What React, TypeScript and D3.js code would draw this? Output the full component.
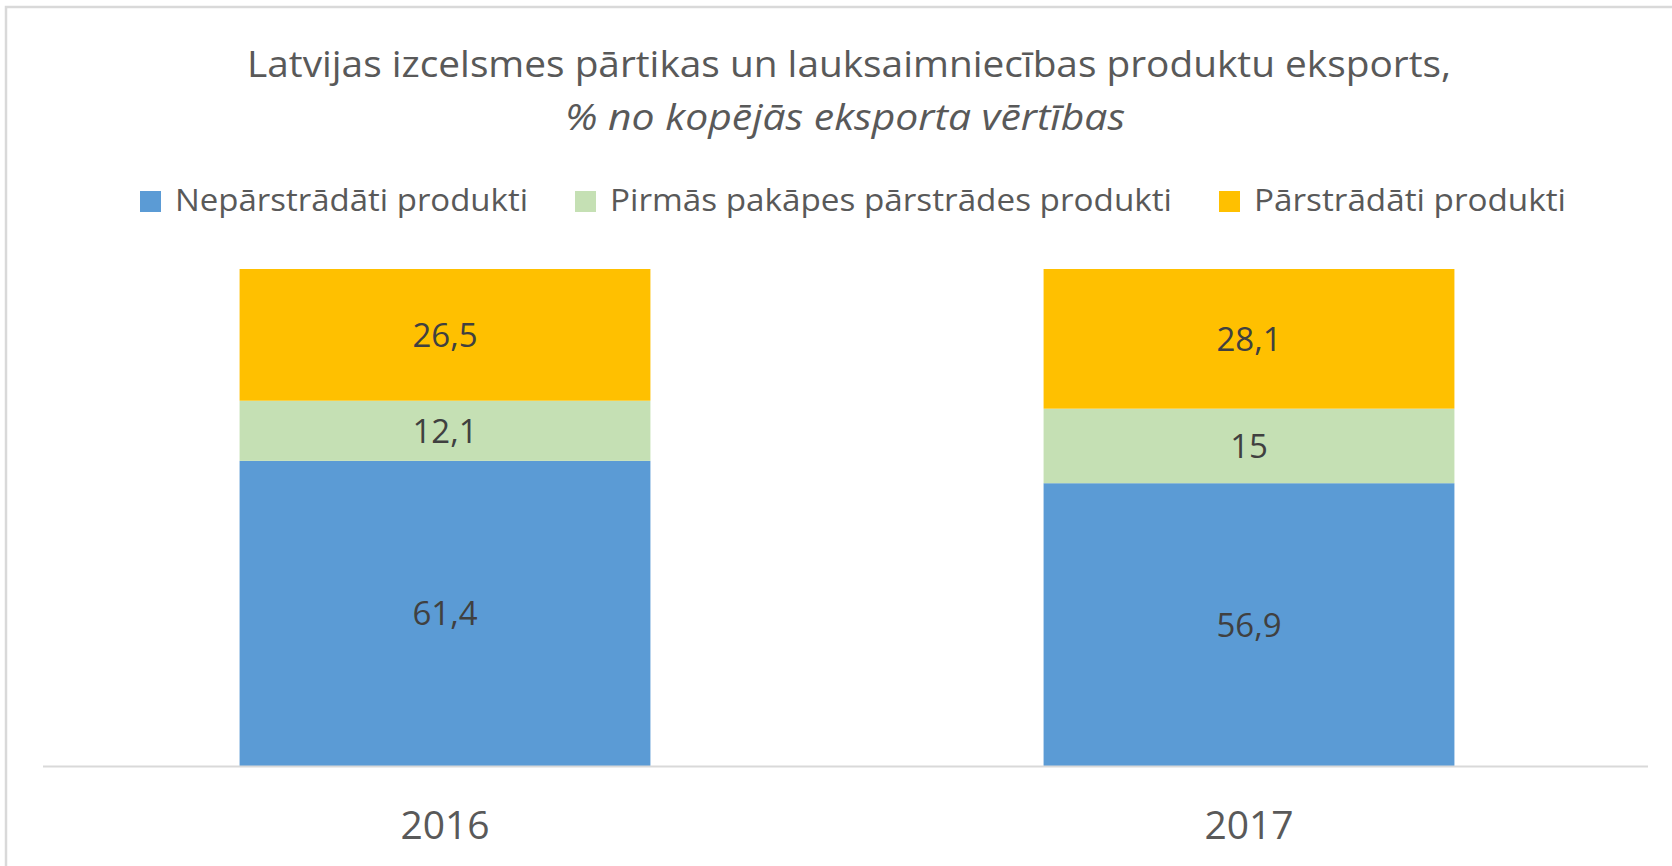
import React, { useEffect, useRef } from "react";
import * as d3 from "d3";

const years = ["2016", "2017"];
const seriesNames = [
  "Nepārstrādāti produkti",
  "Pirmās pakāpes pārstrādes produkti",
  "Pārstrādāti produkti",
];
const unprocessed = [61.4, 56.9];
const primaryProcessed = [12.1, 15];
const processed = [26.5, 28.1];
const labelTexts = [
  ["61,4", "56,9"],
  ["12,1", "15"],
  ["26,5", "28,1"],
];
const titleLine1 = "Latvijas izcelsmes pārtikas un lauksaimniecības produktu eksports,";
const titleLine2 = "% no kopējās eksporta vērtības";

const colors = ["#5b9bd5", "#c5e0b4", "#ffc000"];
const legendWidths = [353, 562, 312];
const W = 1672;
const H = 866;
const FONT = "'Open Sans', sans-serif";
const TEXT = "#595959";

export default function App() {
  const ref = useRef<SVGSVGElement | null>(null);

  useEffect(() => {
    const svg = d3.select(ref.current);
    svg.selectAll("*").remove();

    // chart border
    svg
      .append("rect")
      .attr("x", 6)
      .attr("y", 7)
      .attr("width", W + 10)
      .attr("height", H + 10)
      .attr("fill", "#ffffff")
      .attr("stroke", "#d9d9d9")
      .attr("stroke-width", 2.5);

    svg
      .append("text")
      .attr("x", 849)
      .attr("y", 77)
      .attr("text-anchor", "middle")
      .attr("font-family", FONT)
      .attr("font-size", 37)
      .attr("fill", TEXT)
      .attr("textLength", 1204)
      .attr("lengthAdjust", "spacingAndGlyphs")
      .text(titleLine1);
    svg
      .append("text")
      .attr("x", 845)
      .attr("y", 130)
      .attr("text-anchor", "middle")
      .attr("font-family", FONT)
      .attr("font-size", 37)
      .attr("font-style", "italic")
      .attr("fill", TEXT)
      .attr("textLength", 560)
      .attr("lengthAdjust", "spacingAndGlyphs")
      .text(titleLine2);

    const x = d3
      .scaleBand<string>()
      .domain(years)
      .range([43, 1651])
      .paddingInner(0.489)
      .paddingOuter(0.2445);
    const y = d3.scaleLinear().domain([0, 100]).range([766, 269]);

    const rows = years.map((yr, i) => ({
      year: yr,
      s0: unprocessed[i],
      s1: primaryProcessed[i],
      s2: processed[i],
    }));
    const stack = d3.stack<any>().keys(["s0", "s1", "s2"]);
    const stacked = stack(rows);

    const g = svg.append("g");
    stacked.forEach((layer, si) => {
      layer.forEach((seg, i) => {
        const yr = years[i];
        g.append("rect")
          .attr("x", x(yr)!)
          .attr("width", x.bandwidth())
          .attr("y", y(seg[1]))
          .attr("height", y(seg[0]) - y(seg[1]))
          .attr("fill", colors[si]);
        g.append("text")
          .attr("x", x(yr)! + x.bandwidth() / 2)
          .attr("y", (y(seg[0]) + y(seg[1])) / 2 + 12)
          .attr("text-anchor", "middle")
          .attr("font-family", FONT)
          .attr("font-size", 33)
          .attr("fill", "#404040")
          .text(labelTexts[si][i]);
      });
    });

    // axis line
    svg
      .append("line")
      .attr("x1", 43)
      .attr("x2", 1648)
      .attr("y1", y(0) + 0.5)
      .attr("y2", y(0) + 0.5)
      .attr("stroke", "#d9d9d9")
      .attr("stroke-width", 2);

    years.forEach((yr) => {
      svg
        .append("text")
        .attr("x", x(yr)! + x.bandwidth() / 2)
        .attr("y", 839)
        .attr("text-anchor", "middle")
        .attr("font-family", FONT)
        .attr("font-size", 39)
        .attr("fill", TEXT)
        .text(yr);
    });

    // legend
    const lg = svg.append("g");
    const sq = 21;
    const sqGap = 14;
    const itemGap = 47;
    const total =
      legendWidths.reduce((a, w) => a + sq + sqGap + w, 0) +
      itemGap * (seriesNames.length - 1);
    let cur = 853 - total / 2;
    seriesNames.forEach((name, i) => {
      lg.append("rect")
        .attr("x", cur)
        .attr("y", 191)
        .attr("width", sq)
        .attr("height", sq)
        .attr("fill", colors[i]);
      lg.append("text")
        .attr("x", cur + sq + sqGap)
        .attr("y", 211)
        .attr("font-family", FONT)
        .attr("font-size", 31)
        .attr("fill", TEXT)
        .attr("textLength", legendWidths[i])
        .attr("lengthAdjust", "spacingAndGlyphs")
        .text(name);
      cur += sq + sqGap + legendWidths[i] + itemGap;
    });
  }, []);

  return (
    <svg
      ref={ref}
      width={W}
      height={H}
      style={{ position: "absolute", left: 0, top: 0, background: "#ffffff" }}
    />
  );
}
